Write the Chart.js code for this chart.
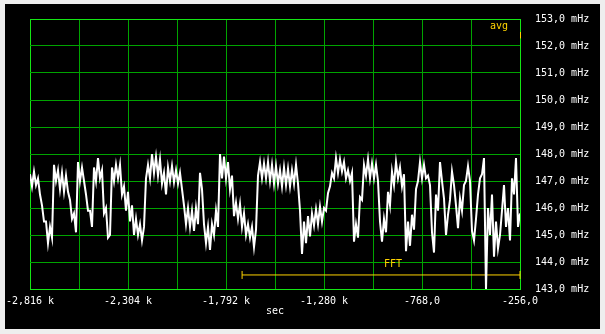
<!DOCTYPE html>
<html>
<head>
<meta charset="utf-8">
<script src="https://cdn.jsdelivr.net/npm/chart.js@4"></script>
<style>
  html, body { margin: 0; padding: 0; background: #eeeeee; }
  #wrap { position: absolute; left: 5px; top: 4px; width: 595px; height: 325px; background: #000; }
  canvas { display: block; }
</style>
</head>
<body>
<div id="wrap"><canvas id="chart" width="595" height="325"></canvas></div>
<script>
// time axis (seconds)
const tStart = -2816;
const tEnd = -256;
const xTickLabels = ['-2,816 k', '', '-2,304 k', '', '-1,792 k', '', '-1,280 k', '', '-768,0', '', '-256,0'];
const yTickLabels = ['143,0 mHz', '144,0 mHz', '145,0 mHz', '146,0 mHz', '147,0 mHz', '148,0 mHz',
  '149,0 mHz', '150,0 mHz', '151,0 mHz', '152,0 mHz', '153,0 mHz'];

// frequency readings (mHz)
const mhz = [
  147.25, 146.8, 147.35, 146.85, 147.1, 146.5, 146.1, 145.5, 145.5, 144.7,
  145.3, 144.9, 147.6, 147.0, 147.4, 146.7, 147.3, 146.6, 147.2, 146.6,
  146.3, 145.6, 145.8, 145.1, 147.7, 147.0, 147.5, 147.0, 146.5, 145.9,
  145.9, 145.3, 147.5, 147.0, 147.85, 147.1, 147.4, 145.8, 146.0, 144.9,
  145.0, 147.5, 147.0, 147.6, 147.1, 147.6, 146.5, 146.8, 145.9, 146.6,
  145.5, 146.1, 145.0, 145.6, 145.0, 145.4, 144.8, 145.3, 147.1, 147.6,
  147.1, 148.0, 147.3, 147.9, 147.2, 147.8, 146.9, 147.3, 146.5, 147.5,
  147.0, 147.55, 146.95, 147.4, 146.9, 147.3, 146.7, 146.1, 145.4, 146.0,
  145.3, 145.9, 145.15, 146.0, 145.4, 147.3, 146.7, 145.4, 144.7, 145.3,
  144.45, 145.4, 145.0, 145.9, 145.3, 148.0, 147.1, 147.9, 147.1, 147.7,
  146.7, 147.2, 145.7, 146.2, 145.6, 146.15, 145.3, 145.8, 145.0, 145.4,
  144.9, 145.3, 144.55, 145.2, 147.2, 147.7, 147.1, 147.65, 147.1, 147.7,
  147.0, 147.6, 146.9, 147.55, 146.9, 147.4, 146.8, 147.5, 146.85, 147.45,
  146.8, 147.4, 146.9, 147.6, 146.9, 145.9, 144.3, 145.5, 144.7, 145.7,
  144.95, 145.8, 145.35, 145.95, 145.4, 146.05, 145.5, 146.0, 145.9, 146.55,
  146.8, 147.3, 147.1, 147.85, 147.3, 147.8, 147.35, 147.7, 147.1, 147.4,
  147.0, 147.3, 144.75, 145.4, 144.9, 146.4, 146.3, 147.6, 147.2, 147.8,
  147.1, 147.65, 147.1, 147.6, 147.0, 145.5, 144.75, 145.6, 145.1, 146.6,
  146.1, 147.35, 146.85, 147.7, 147.1, 147.5, 146.8, 147.25, 144.4, 145.5,
  144.6, 145.75, 145.2, 146.7, 147.0, 147.7, 147.1, 147.6, 147.1, 147.2,
  146.85, 145.1, 144.35, 146.5, 145.9, 147.7, 147.0, 146.35, 145.0, 145.75,
  146.3, 147.35, 146.85, 146.1, 145.25, 146.35, 145.9, 146.85, 147.0, 147.55,
  147.0, 145.15, 144.8, 145.6, 146.5, 147.1, 147.25, 147.85, 143.0, 146.0,
  145.0, 146.5, 144.2, 145.5, 144.5, 145.0, 145.9, 146.85, 145.3, 146.0,
  144.8, 147.1, 146.5, 147.85, 145.3, 145.8
];

// FFT window marker
const fftSpan = [-1708, -256];
const fftLevel = 143.52;
const avgLevel = 152.4;

const step = (tEnd - tStart) / (mhz.length - 1);
const trace = mhz.map((v, i) => ({ x: tStart + i * step, y: v }));

const yellow = '#ffd400';
const gridGreen = '#00a400';
const edgeGreen = '#14e614';
const mono = { family: "'DejaVu Sans Mono', monospace", size: 10 };

const overlay = {
  id: 'overlay',
  afterDatasetsDraw(chart) {
    const { ctx, scales: { x, y } } = chart;
    ctx.save();
    ctx.font = "10px 'DejaVu Sans Mono', monospace";
    ctx.fillStyle = yellow;
    ctx.textBaseline = 'middle';
    ctx.textAlign = 'center';
    ctx.fillText('FFT', x.getPixelForValue(-920), y.getPixelForValue(143.9));
    ctx.textAlign = 'right';
    ctx.fillText('avg', x.right - 12, y.getPixelForValue(152.74));
    ctx.strokeStyle = yellow;
    ctx.lineWidth = 1;
    ctx.beginPath();
    ctx.moveTo(x.right + 0.5, y.getPixelForValue(avgLevel + 0.12));
    ctx.lineTo(x.right + 0.5, y.getPixelForValue(avgLevel - 0.12));
    ctx.stroke();
    ctx.restore();
  }
};

new Chart(document.getElementById('chart'), {
  type: 'line',
  data: {
    datasets: [
      {
        data: trace,
        borderColor: '#ffffff',
        borderWidth: 2,
        pointRadius: 0,
        tension: 0,
      },
      {
        data: fftSpan.map(t => ({ x: t, y: fftLevel })),
        borderColor: yellow,
        borderWidth: 1,
        pointStyle: 'line',
        rotation: 90,
        pointRadius: 4,
        pointBorderColor: yellow,
        pointBorderWidth: 1,
        clip: false,
      },
    ],
  },
  options: {
    responsive: false,
    animation: false,
    events: [],
    layout: { padding: { left: 25, top: 15, right: 0, bottom: 0 } },
    plugins: { legend: { display: false }, tooltip: { enabled: false } },
    scales: {
      x: {
        type: 'linear',
        min: tStart,
        max: tEnd,
        grid: {
          color: c => (c.tick && (c.tick.value === tStart || c.tick.value === tEnd) ? edgeGreen : gridGreen),
          drawTicks: false,
          lineWidth: 1,
        },
        border: { color: edgeGreen },
        ticks: {
          stepSize: 256,
          autoSkip: false,
          maxRotation: 0,
          color: '#ffffff',
          font: mono,
          padding: 6,
          callback: (v, i) => xTickLabels[i],
        },
        title: { display: true, text: 'sec', color: '#ffffff', font: mono, padding: { top: 0, bottom: 12 } },
        afterFit: s => { s.height = 40; s.paddingLeft = 0; s.paddingRight = 0; },
      },
      y: {
        position: 'right',
        min: 143,
        max: 153,
        grid: {
          color: c => (c.tick && (c.tick.value === 143 || c.tick.value === 153) ? edgeGreen : gridGreen),
          drawTicks: false,
        },
        border: { color: edgeGreen },
        ticks: {
          stepSize: 1,
          color: '#ffffff',
          font: mono,
          padding: 15,
          callback: (v, i) => yTickLabels[i],
        },
        afterFit: s => { s.width = 80; s.paddingTop = 0; s.paddingBottom = 0; },
      },
    },
  },
  plugins: [overlay],
});
</script>
</body>
</html>
